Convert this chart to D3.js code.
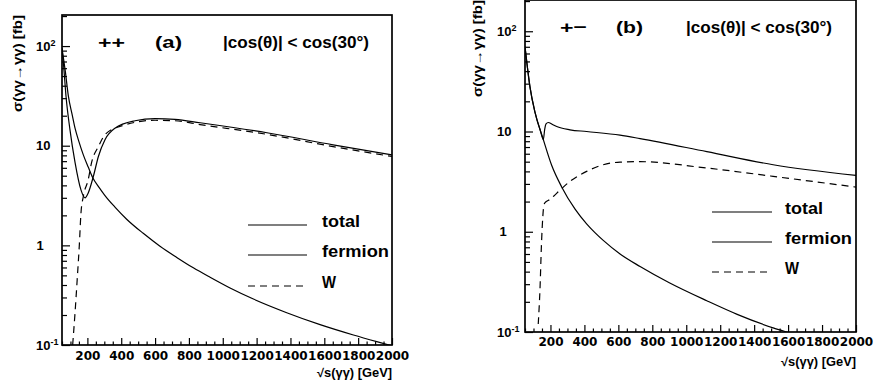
<!DOCTYPE html>
<html><head><meta charset="utf-8">
<script src="https://cdn.jsdelivr.net/npm/d3@7"></script>
<style>
body{margin:0;background:#fff;}
svg{display:block;}
text{font-family:"Liberation Sans",Arial,sans-serif;font-weight:bold;fill:#000;}
</style></head>
<body><svg id="c" width="874" height="390"></svg>
<script>
// ---------- data ----------
const xMajorTicks = [200,400,600,800,1000,1200,1400,1600,1800,2000];
const xTickLabels = ["200","400","600","800","1000","1200","1400","1600","1800","2000"];
const yMajorTicks = [0.1,1,10,100];
const yTickBase = ["10","1","10","10"];
const yTickSup  = ["-1","","","2"];
const legendLabels = ["total","fermion","W"];

// panel (a) ++
const sA_total   = [50,60,74,97,127,162,186,205,235,265,304,363,481,600,718,866,1261,1652,2000];
const vA_total   = [95,62,31,14.5,6.8,3.6,3.0,3.36,4.9,7.8,11.5,15,17.8,18.7,18.4,17.0,13.5,10.2,8.1];
const sA_fermion = [50,70,87,110,127,150,176,205,231,270,304,363,432,530,629,728,826,925,1043,1181,1378,1575,1772,1910,2000];
const vA_fermion = [95,55,32,20.5,15,11,8.1,6.1,4.8,3.8,3.16,2.42,1.83,1.32,0.98,0.757,0.595,0.478,0.373,0.289,0.211,0.16,0.126,0.108,0.098];
const sA_W       = [113,127,140,152,162,176,205,225,265,304,402,600,718,866,1261,1652,2000];
const vA_W       = [0.1,0.21,0.46,0.98,2.1,3.1,4.57,6.8,9.8,12.9,15.8,18.0,17.8,16.3,13.0,9.8,7.8];

// panel (b) +-
const sB_total   = [50,60,79,109,140,158,166,174,187,210,237,315,413,610,728,1121,1512,2000];
const vB_total   = [70,50,28,15.5,10.3,8.3,10.5,11.9,12.3,11.8,11.2,10.4,10.0,9.2,8.5,6.3,4.66,3.65];
const sB_fermion = [50,60,79,109,158,207,266,345,413,462,511,610,728,900,1121,1300,1512,1592,2000];
const vB_fermion = [70,50,28,15.5,8.3,4.6,2.8,1.68,1.2,0.98,0.82,0.6,0.45,0.31,0.205,0.15,0.11,0.1,0.065];
const sB_W       = [128,138,148,162,168,197,217,256,315,413,511,610,728,1121,1512,2000];
const vB_W       = [0.12,0.26,0.83,1.86,1.95,2.1,2.25,2.6,3.18,4.0,4.66,4.95,5.0,4.32,3.57,2.79];

// ---------- drawing ----------
const svg = d3.select("#c");

function zip(s,v){ return s.map((d,i)=>[d,v[i]]); }

function panel(cfg){
  const {x0,x1,y0,y1,id} = cfg;
  const x = d3.scaleLinear().domain([50,2000]).range([x0,x1]);
  const y = d3.scaleLog().domain([0.1,205]).range([y1,y0]);
  const g = svg.append("g");

  g.append("clipPath").attr("id","clip"+id).append("rect")
    .attr("x",x0).attr("y",y0).attr("width",x1-x0).attr("height",y1-y0);

  // minor x ticks
  const xMinor = d3.range(50,2001,50).filter(v=>v%200!==0);
  const axm = g.append("g").attr("transform",`translate(0,${y1})`)
    .call(d3.axisBottom(x).tickValues(xMinor).tickSize(-3.5).tickFormat(""));
  axm.select(".domain").remove();
  const axM = g.append("g").attr("transform",`translate(0,${y1})`)
    .call(d3.axisBottom(x).tickValues(xMajorTicks).tickSize(-7).tickPadding(cfg.xPad)
      .tickFormat((d,i)=>xTickLabels[i]));
  axM.select(".domain").remove();
  axM.selectAll("text").style("font-family","'DejaVu Sans'").style("font-weight","bold")
    .style("font-size","12px").attr("fill","#000");

  // y ticks
  const yMinor = [];
  [0.1,1,10,100].forEach(d=>{ for(let k=2;k<=9;k++){ const v=d*k; if(v<=205) yMinor.push(v);} });
  const aym = g.append("g").attr("transform",`translate(${x0},0)`)
    .call(d3.axisLeft(y).tickValues(yMinor).tickSize(-5).tickFormat(""));
  aym.select(".domain").remove();
  const ayM = g.append("g").attr("transform",`translate(${x0},0)`)
    .call(d3.axisLeft(y).tickValues(yMajorTicks).tickSize(-8).tickFormat(""));
  ayM.select(".domain").remove();
  g.selectAll(".tick line").attr("stroke","#000").attr("stroke-width",1.2);

  // y tick labels
  yMajorTicks.forEach((v,i)=>{
    const t = g.append("text").attr("y",y(v)+4.5).style("font-size","13px");
    if(yTickBase[i]==="1"){
      t.attr("x",x0-22).attr("text-anchor","middle").text("1");
    } else {
      t.attr("x",x0-cfg.yLab);
      t.append("tspan").text(yTickBase[i]);
      if(yTickSup[i]) t.append("tspan").attr("dy",-5).style("font-size","9px").text(yTickSup[i]);
    }
  });

  // frame
  g.append("rect").attr("x",x0).attr("y",y0).attr("width",x1-x0).attr("height",y1-y0)
    .attr("fill","none").attr("stroke","#000").attr("stroke-width",1.7);

  // curves
  const line = d3.line().x(d=>x(d[0])).y(d=>y(d[1])).curve(d3.curveMonotoneX);
  const cg = g.append("g").attr("clip-path",`url(#clip${id})`);
  cg.append("path").attr("d",line(zip(cfg.sT,cfg.vT))).attr("fill","none").attr("stroke","#000").attr("stroke-width",1.2);
  cg.append("path").attr("d",line(zip(cfg.sF,cfg.vF))).attr("fill","none").attr("stroke","#000").attr("stroke-width",1.2);
  cg.append("path").attr("d",line(zip(cfg.sW,cfg.vW))).attr("fill","none").attr("stroke","#000").attr("stroke-width",1.2)
    .attr("stroke-dasharray","7,5");

  // titles
  const ty = cfg.titleY;
  g.append("text").attr("x",cfg.t1x).attr("y",ty).style("font-size","17px")
    .attr("textLength",27).attr("lengthAdjust","spacingAndGlyphs").text(cfg.sign);
  g.append("text").attr("x",cfg.t2x).attr("y",ty).style("font-size","17px")
    .attr("textLength",27).attr("lengthAdjust","spacingAndGlyphs").text(cfg.tag);
  g.append("text").attr("x",cfg.t3x).attr("y",ty).style("font-size","16.5px")
    .attr("textLength",146).attr("lengthAdjust","spacingAndGlyphs").text("|cos(θ)| < cos(30°)");

  // legend
  cfg.legY.forEach((ly,i)=>{
    g.append("line").attr("x1",cfg.legX1).attr("x2",cfg.legX2).attr("y1",ly).attr("y2",ly)
      .attr("stroke","#000").attr("stroke-width",1.2).attr("stroke-dasharray", i===2?"7,5":null);
    g.append("text").attr("x",cfg.legTX).attr("y",ly+1.5).style("font-size","17px")
      .attr("textLength",[38,67,14][i]).attr("lengthAdjust","spacingAndGlyphs").text(legendLabels[i]);
  });

  // axis titles
  g.append("text").attr("transform",`translate(${cfg.yTitleX},${y0})rotate(-90)`)
    .attr("text-anchor","end").style("font-size","12px")
    .attr("textLength",97).attr("lengthAdjust","spacingAndGlyphs").text("σ(γγ→γγ) [fb]");
  g.append("text").attr("x",x1).attr("y",cfg.xTitleY).attr("text-anchor","end").style("font-size","12px")
    .attr("textLength",75).attr("lengthAdjust","spacingAndGlyphs").text("√s(γγ) [GeV]");
}

panel({id:"a",x0:62,x1:392,y0:15,y1:345,xPad:6,yLab:26,
  sT:sA_total,vT:vA_total,sF:sA_fermion,vF:vA_fermion,sW:sA_W,vW:vA_W,
  titleY:48,sign:"++",tag:"(a)",t1x:98,t2x:155,t3x:223,
  legY:[225,255,286],legX1:248,legX2:307,legTX:322,yTitleX:22,xTitleY:377});
panel({id:"b",x0:525,x1:856,y0:0,y1:332,xPad:5.5,yLab:28,
  sT:sB_total,vT:vB_total,sF:sB_fermion,vF:vB_fermion,sW:sB_W,vW:vB_W,
  titleY:33,sign:"+−",tag:"(b)",t1x:560,t2x:616,t3x:686,
  legY:[212,242,272],legX1:712,legX2:772,legTX:785,yTitleX:482,xTitleY:366});
</script></body></html>
